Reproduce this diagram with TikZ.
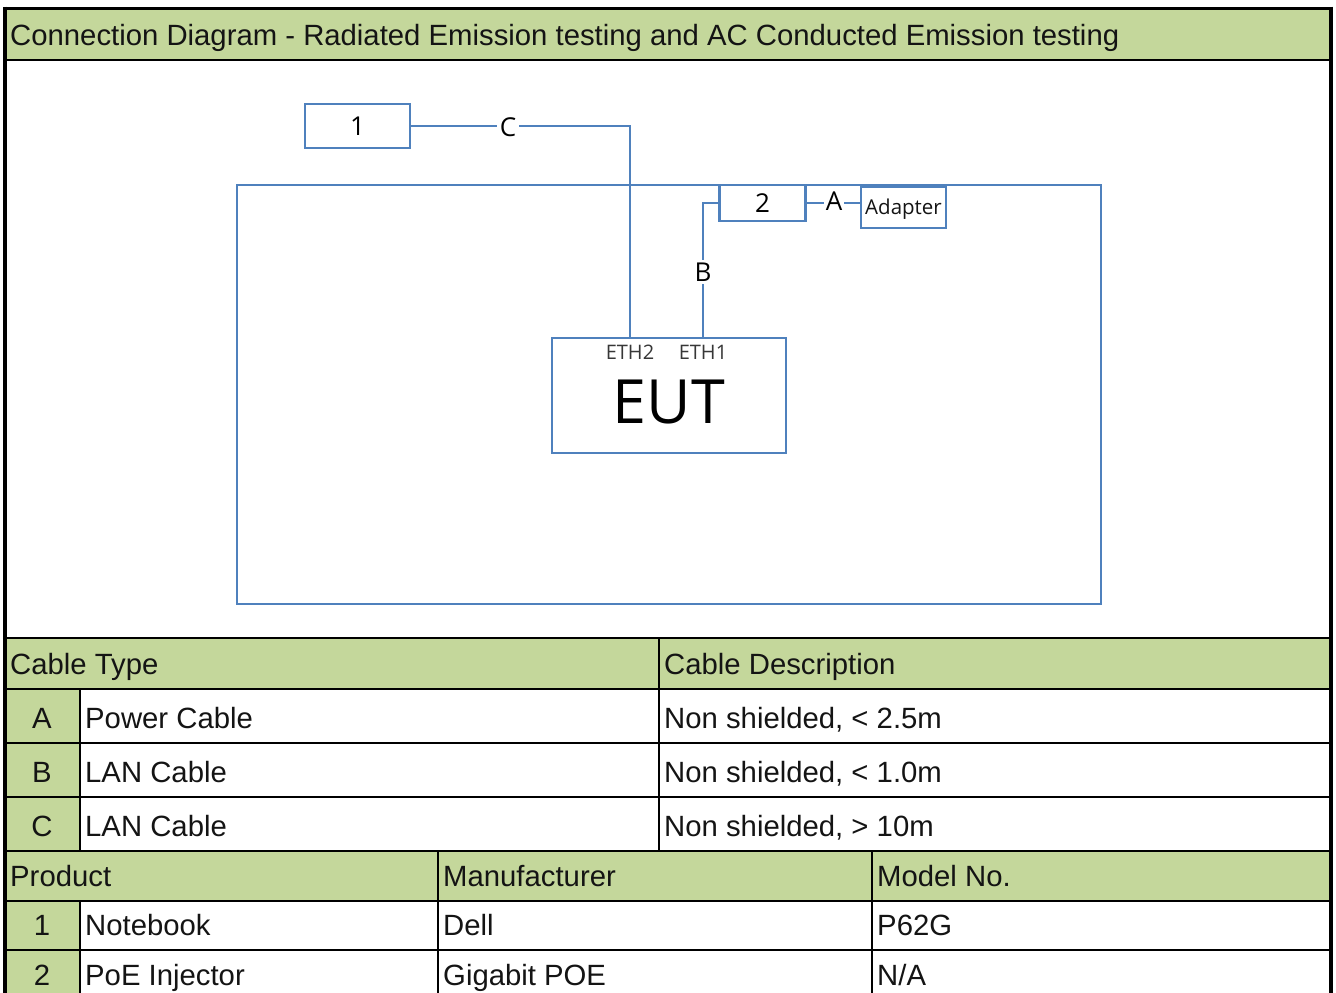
\documentclass[tikz,border=0pt]{standalone}
\usepackage{fontspec}
\setmainfont{Liberation Sans}
\newfontfamily\dfont{Open Sans}
\definecolor{hdr}{RGB}{196,215,155}
\definecolor{ln}{RGB}{79,129,189}
\definecolor{txt}{RGB}{20,20,20}
\begin{document}
\begin{tikzpicture}[x=1pt,y=-1pt,
  tab/.style={font=\fontsize{29.3}{33}\selectfont, inner sep=0pt, anchor=base west, text=txt},
  tabc/.style={font=\fontsize{29.3}{33}\selectfont, inner sep=0pt, anchor=base, text=txt},
  grid/.style={black, line width=2.2pt},
  dbox/.style={draw=ln, line width=2.2pt, fill=white, inner sep=0pt, font=\dfont\fontsize{26}{28}\selectfont},
  wire/.style={ln, line width=2pt},
  lbl/.style={fill=white, inner sep=3pt, font=\dfont\fontsize{26}{28}\selectfont}]
\useasboundingbox (0,0) rectangle (1336,993);
% fills
\fill[hdr] (5,8) rectangle (1331,60);
\fill[hdr] (5,638) rectangle (1331,689);
\fill[hdr] (5,689) rectangle (80,851);
\fill[hdr] (5,851) rectangle (1331,901);
\fill[hdr] (5,901) rectangle (80,993);
% grid lines
\draw[grid] (5,60) -- (1331,60);
\draw[grid, line width=2.6pt] (5,638) -- (1331,638);
\foreach \yy in {689,743,797,851,901,950} \draw[grid] (5,\yy) -- (1331,\yy);
\draw[grid] (80,689) -- (80,851);
\draw[grid] (80,901) -- (80,993);
\draw[grid] (659,638) -- (659,851);
\draw[grid] (438,851) -- (438,993);
\draw[grid] (872,851) -- (872,993);
\draw[black, line width=3pt] (3,8) -- (1333,8);
\draw[black, line width=4pt] (5,6.5) -- (5,993);
\draw[black, line width=4pt] (1331,6.5) -- (1331,993);
% title
\node[tab] (title) at (10,45.5) {Connection Diagram - Radiated Emission testing and AC Conducted Emission testing};
% cable table
\node[tab] (hct) at (10,674) {Cable Type};
\node[tab] (hcd) at (664,674) {Cable Description};
\node[tabc] (la) at (42,728) {A};
\node[tab] (ta) at (85,728) {Power Cable};
\node[tab] (da) at (664,728) {Non shielded, < 2.5m};
\node[tabc] (lb) at (42,782) {B};
\node[tab] (tb) at (85,782) {LAN Cable};
\node[tab] (db) at (664,782) {Non shielded, < 1.0m};
\node[tabc] (lc) at (42,836) {C};
\node[tab] (tc) at (85,836) {LAN Cable};
\node[tab] (dc) at (664,836) {Non shielded, > 10m};
% product table
\node[tab] (hp) at (10,886) {Product};
\node[tab] (hm) at (443,886) {Manufacturer};
\node[tab] (hmo) at (877,886) {Model No.};
\node[tabc] (l1) at (42,935) {1};
\node[tab] (p1) at (85,935) {Notebook};
\node[tab] (m1) at (443,935) {Dell};
\node[tab] (mo1) at (877,935) {P62G};
\node[tabc] (l2) at (42,985) {2};
\node[tab] (p2) at (85,985) {PoE Injector};
\node[tab] (m2) at (443,985) {Gigabit POE};
\node[tab] (mo2) at (877,985) {N/A};
% diagram
\node[draw=ln, line width=2.2pt, minimum width=864pt, minimum height=419pt, inner sep=0pt] (room) at (669,394.5) {};
\coordinate (eth2) at (630,338);
\coordinate (eth1) at (703,338);
\node[dbox, minimum width=105pt, minimum height=44pt] (n1) at (357.5,126) {1};
\node[dbox, minimum width=86pt, minimum height=36pt] (n2) at (762.5,203) {2};
\node[dbox, minimum width=85pt, minimum height=41pt] (ad) at (903.5,207.5) {};
\node[font=\dfont\fontsize{20.5}{24}\selectfont, inner sep=0pt, text=txt] (adt) at (903.5,209) {Adapter};
\draw[wire] (n1.east) -| (eth2);
\draw[wire] (n2.west) -| (eth1);
\draw[wire] (n2.east) -- (n2.east -| ad.west);
\node[lbl] (lC) at (508,127) {C};
\node[lbl] (lB) at (703,272) {B};
\node[lbl, inner sep=2pt] (lA) at (834,201) {A};
\node[draw=ln, line width=2.2pt, fill=white, minimum width=234pt, minimum height=115pt, inner sep=0pt] (eut) at (669,395.5) {};
\node[font=\dfont\fontsize{20}{24}\selectfont, text=txt!85!white, inner sep=0pt] (t2) at (630,352) {ETH2};
\node[font=\dfont\fontsize{20}{24}\selectfont, text=txt!85!white, inner sep=0pt] (t1) at (703,352) {ETH1};
\node[font=\dfont\fontsize{61}{64}\selectfont, text=black, inner sep=0pt] (et) at (669,402) {EUT};
\end{tikzpicture}
\end{document}
